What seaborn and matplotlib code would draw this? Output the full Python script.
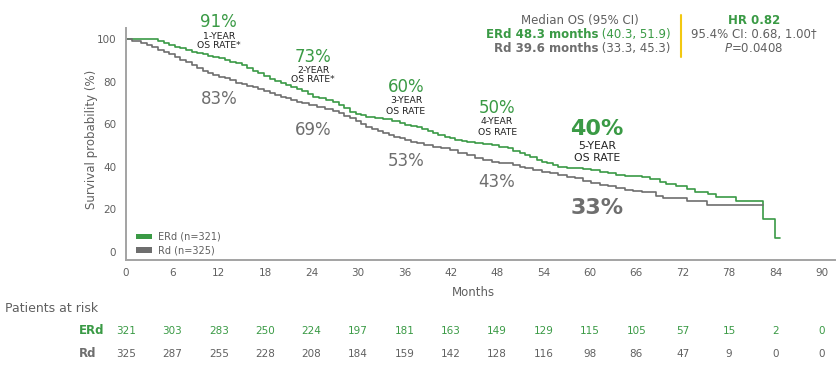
import pandas as pd
import matplotlib
matplotlib.use("Agg")
import matplotlib.pyplot as plt
import matplotlib.transforms as mtransforms
from matplotlib.patches import Patch
import seaborn as sns

# Kaplan-Meier steps (months, % surviving)
ERD_MONTHS = [0, 4.2, 4.9, 5.6, 6.3, 7.0, 7.8, 8.5, 9.2, 9.9, 10.6, 11.3, 12.0,
              12.8, 13.5, 14.2, 15.0, 15.7, 16.4, 17.1, 17.8, 18.6, 19.3, 20.0,
              20.7, 21.4, 22.1, 22.8, 23.5, 24.2, 25.0, 25.9, 26.8, 27.5, 28.2,
              29.0, 29.7, 30.4, 31.1, 32.2, 33.3, 34.4, 35.4, 36.1, 36.9, 37.6,
              38.3, 39.0, 39.7, 40.4, 41.2, 41.9, 42.6, 43.4, 44.1, 45.1, 46.2,
              47.3, 48.3, 49.4, 50.1, 50.9, 51.6, 52.3, 53.1, 53.8, 54.5, 55.2,
              55.9, 57.0, 58.1, 59.1, 60.2, 61.3, 62.4, 63.4, 64.5, 65.6, 66.7,
              67.8, 69.1, 69.9, 71.2, 72.5, 73.6, 75.3, 76.3, 78.9, 82.4, 83.9, 84.6]
ERD_SURV = [100, 99.0, 98.2, 97.2, 96.4, 95.6, 94.8, 94.0, 93.4, 92.8, 92.2, 91.6, 91.0,
            90.1, 89.4, 88.6, 87.8, 86.5, 85.2, 83.9, 82.6, 81.4, 80.3, 79.4,
            78.5, 77.6, 76.6, 75.6, 74.3, 72.9, 72.2, 71.4, 70.6, 69.0, 67.4,
            65.9, 65.0, 64.2, 63.5, 62.9, 62.3, 61.3, 60.4, 59.8, 59.1, 58.5,
            57.6, 56.6, 55.7, 54.9, 54.1, 53.4, 52.8, 52.3, 51.8, 51.4, 50.8,
            50.2, 49.5, 48.7, 47.6, 46.5, 45.5, 44.4, 43.4, 42.4, 41.6, 40.8,
            40.0, 39.6, 39.3, 38.9, 38.5, 37.7, 36.9, 36.3, 35.8, 35.6, 35.4,
            34.1, 33.0, 31.9, 31.0, 29.6, 28.3, 27.2, 26.0, 23.9, 15.3, 6.5, 6.5]

RD_MONTHS = [0, 0.8, 2.0, 2.7, 3.3, 4.2, 4.9, 5.6, 6.3, 7.0, 7.8, 8.5, 9.2, 9.9,
             10.6, 11.3, 12.0, 12.8, 13.5, 14.2, 15.0, 15.7, 16.4, 17.1, 17.8,
             18.6, 19.3, 20.0, 20.7, 21.4, 22.1, 22.8, 23.7, 24.7, 25.7, 26.8,
             27.5, 28.2, 29.0, 29.7, 30.4, 31.1, 31.8, 32.6, 33.3, 34.0, 34.7,
             35.4, 36.1, 36.9, 37.6, 38.6, 39.7, 40.8, 41.9, 43.0, 44.1, 45.1,
             46.2, 47.3, 48.3, 49.4, 50.1, 50.9, 51.6, 52.7, 53.8, 54.9, 55.9,
             57.0, 58.1, 59.1, 60.2, 61.3, 62.4, 63.4, 64.5, 65.6, 66.7, 68.6,
             69.5, 72.5, 75.1, 82.4]
RD_SURV = [100, 99.3, 98.0, 97.2, 96.4, 94.8, 93.8, 92.8, 91.7, 90.4, 89.1, 87.8, 86.5, 85.2,
           83.9, 83.0, 82.3, 81.5, 80.6, 79.6, 78.7, 78.0, 77.3, 76.5, 75.6,
           74.6, 73.7, 72.9, 72.2, 71.4, 70.6, 69.8, 68.9, 67.9, 67.2, 66.4,
           65.2, 64.0, 62.8, 61.5, 60.1, 58.8, 57.8, 56.7, 55.7, 54.9, 54.1,
           53.4, 52.6, 51.8, 51.0, 50.2, 49.4, 48.7, 47.9, 46.7, 45.5, 44.0,
           43.2, 42.4, 42.0, 41.6, 40.8, 40.1, 39.3, 38.5, 37.7, 37.0, 36.2,
           35.4, 34.6, 33.5, 32.3, 31.7, 31.1, 30.1, 29.1, 28.7, 28.0, 26.3,
           25.2, 23.9, 22.1, 22.1]

ARMS = ["ERd", "Rd"]
LEGEND_LABELS = ["ERd (n=321)", "Rd (n=325)"]

RISK_MONTHS = [0, 6, 12, 18, 24, 30, 36, 42, 48, 54, 60, 66, 72, 78, 84, 90]
ERD_AT_RISK = [321, 303, 283, 250, 224, 197, 181, 163, 149, 129, 115, 105, 57, 15, 2, 0]
RD_AT_RISK = [325, 287, 255, 228, 208, 184, 159, 142, 128, 116, 98, 86, 47, 9, 0, 0]

YEAR_MONTHS = [12, 24, 36, 48, 60]
ERD_RATE = ["91%", "73%", "60%", "50%", "40%"]
RD_RATE = ["83%", "69%", "53%", "43%", "33%"]
RATE_CAPTION = ["1-YEAR", "2-YEAR", "3-YEAR", "4-YEAR", "5-YEAR"]
RATE_FOOT = ["OS RATE*", "OS RATE*", "OS RATE", "OS RATE", "OS RATE"]

GREEN = "#3a9a45"
GRAY = "#6e6e6e"
TEXT_GRAY = "#606060"
AXIS_GRAY = "#a3a3a3"
YELLOW = "#f2c811"

sns.set_style("white")
plt.rcParams["font.family"] = ["DejaVu Sans"]

df = pd.concat([
    pd.DataFrame({"month": ERD_MONTHS, "surv": ERD_SURV, "arm": ARMS[0]}),
    pd.DataFrame({"month": RD_MONTHS, "surv": RD_SURV, "arm": ARMS[1]}),
])

W, H = 838, 373
fig = plt.figure(figsize=(W / 100, H / 100), dpi=100)
ax = fig.add_axes([126 / W, 1 - 260 / H, (835 - 126) / W, (260 - 28) / H])

sns.lineplot(data=df, x="month", y="surv", hue="arm", palette=[GREEN, GRAY],
             estimator=None, drawstyle="steps-post", linewidth=1.2,
             legend=False, ax=ax)

ax.set_xlim(0, 91.7)
ax.set_ylim(-3.75, 105.2)
ax.set_xticks(RISK_MONTHS)
ax.set_yticks([0, 20, 40, 60, 80, 100])
for side in ["top", "right"]:
    ax.spines[side].set_visible(False)
for side in ["left", "bottom"]:
    ax.spines[side].set_color(AXIS_GRAY)
    ax.spines[side].set_linewidth(1.4)
ax.tick_params(axis="y", length=5, width=1, color=AXIS_GRAY, labelcolor=TEXT_GRAY,
               labelsize=7.5, pad=2)
ax.tick_params(axis="x", length=0, labelcolor=TEXT_GRAY, labelsize=7.5, pad=6)
ax.set_xlabel("Months", color=TEXT_GRAY, fontsize=8.5, va="top")
ax.xaxis.set_label_coords(0.49, -0.11)
ax.set_ylabel("Survival probability (%)", color=TEXT_GRAY, fontsize=8.5)
ax.yaxis.set_label_coords(-0.04, 0.52)

handles = [Patch(facecolor=GREEN, edgecolor="none"), Patch(facecolor=GRAY, edgecolor="none")]
leg = ax.legend(handles, LEGEND_LABELS, loc="lower left", bbox_to_anchor=(0.014, 0.02),
                frameon=False, fontsize=7, handlelength=1.65, handleheight=0.5,
                handletextpad=0.6, labelspacing=0.35, borderpad=0, borderaxespad=0)
for t in leg.get_texts():
    t.set_color(TEXT_GRAY)

# yearly OS rate call-outs (baselines in data units)
green_y = [105.6, 89.3, 75.0, 65.1, 54.9]
cap_y = [100.0, 83.9, 69.8, 60.1, 48.2]
foot_y = [95.6, 80.0, 64.8, 54.9, 42.9]
gray_y = [69.3, 54.9, 40.4, 30.7, 17.7]
x_off = [0, 0.2, 0.2, 0, 0.9]
for i, m in enumerate(YEAR_MONTHS):
    big = i == 4
    x = m + x_off[i]
    ax.text(x, green_y[i], ERD_RATE[i], color=GREEN, ha="center", va="baseline",
            fontsize=16 if big else 12, fontweight="bold" if big else "normal", clip_on=False)
    ax.text(x, cap_y[i], RATE_CAPTION[i], color="#222222", ha="center", va="baseline",
            fontsize=7.8 if big else 6.7)
    ax.text(x, foot_y[i], RATE_FOOT[i], color="#222222", ha="center", va="baseline",
            fontsize=7.8 if big else 6.7)
    ax.text(x, gray_y[i], RD_RATE[i], color=GRAY, ha="center", va="baseline",
            fontsize=16 if big else 12, fontweight="bold" if big else "normal")

# median OS / HR box
def fx(px):
    return px / W

def fy(py):
    return 1 - py / H

fig.text(fx(580), fy(24), "Median OS (95% CI)", color=TEXT_GRAY, ha="center", va="baseline", fontsize=8.5)
fig.text(fx(598), fy(37.7), "ERd 48.3 months", color=GREEN, ha="right", va="baseline",
         fontsize=8.5, fontweight="bold")
fig.text(fx(598), fy(37.7), " (40.3, 51.9)", color=GREEN, ha="left", va="baseline", fontsize=8.5)
fig.text(fx(598), fy(51.7), "Rd 39.6 months", color=GRAY, ha="right", va="baseline",
         fontsize=8.5, fontweight="bold")
fig.text(fx(598), fy(51.7), " (33.3, 45.3)", color=TEXT_GRAY, ha="left", va="baseline", fontsize=8.5)
fig.add_artist(plt.Line2D([fx(681), fx(681)], [fy(15), fy(57)], color=YELLOW, linewidth=1.5))
fig.text(fx(754), fy(24), "HR 0.82", color=GREEN, ha="center", va="baseline",
         fontsize=8.5, fontweight="bold")
fig.text(fx(754), fy(37.7), "95.4% CI: 0.68, 1.00\u2020", color=TEXT_GRAY, ha="center",
         va="baseline", fontsize=8.5)
fig.text(fx(754), fy(52), r"$\it{P}$=0.0408", color=TEXT_GRAY, ha="center", va="baseline",
         fontsize=8.5)

# patients at risk table
fig.text(fx(5), fy(311.5), "Patients at risk", color=TEXT_GRAY, ha="left", va="baseline", fontsize=9)
fig.text(fx(79), fy(334), "ERd", color=GREEN, ha="left", va="baseline", fontsize=8.5, fontweight="bold")
fig.text(fx(79), fy(357), "Rd", color=GRAY, ha="left", va="baseline", fontsize=8.5, fontweight="bold")
trans = mtransforms.blended_transform_factory(ax.transData, fig.transFigure)
for m, a, b in zip(RISK_MONTHS, ERD_AT_RISK, RD_AT_RISK):
    ax.text(m, fy(334), str(a), color=GREEN, ha="center", va="baseline", fontsize=7.5,
            transform=trans, clip_on=False)
    ax.text(m, fy(357), str(b), color=TEXT_GRAY, ha="center", va="baseline", fontsize=7.5,
            transform=trans, clip_on=False)

fig.savefig("out.png", dpi=100)
